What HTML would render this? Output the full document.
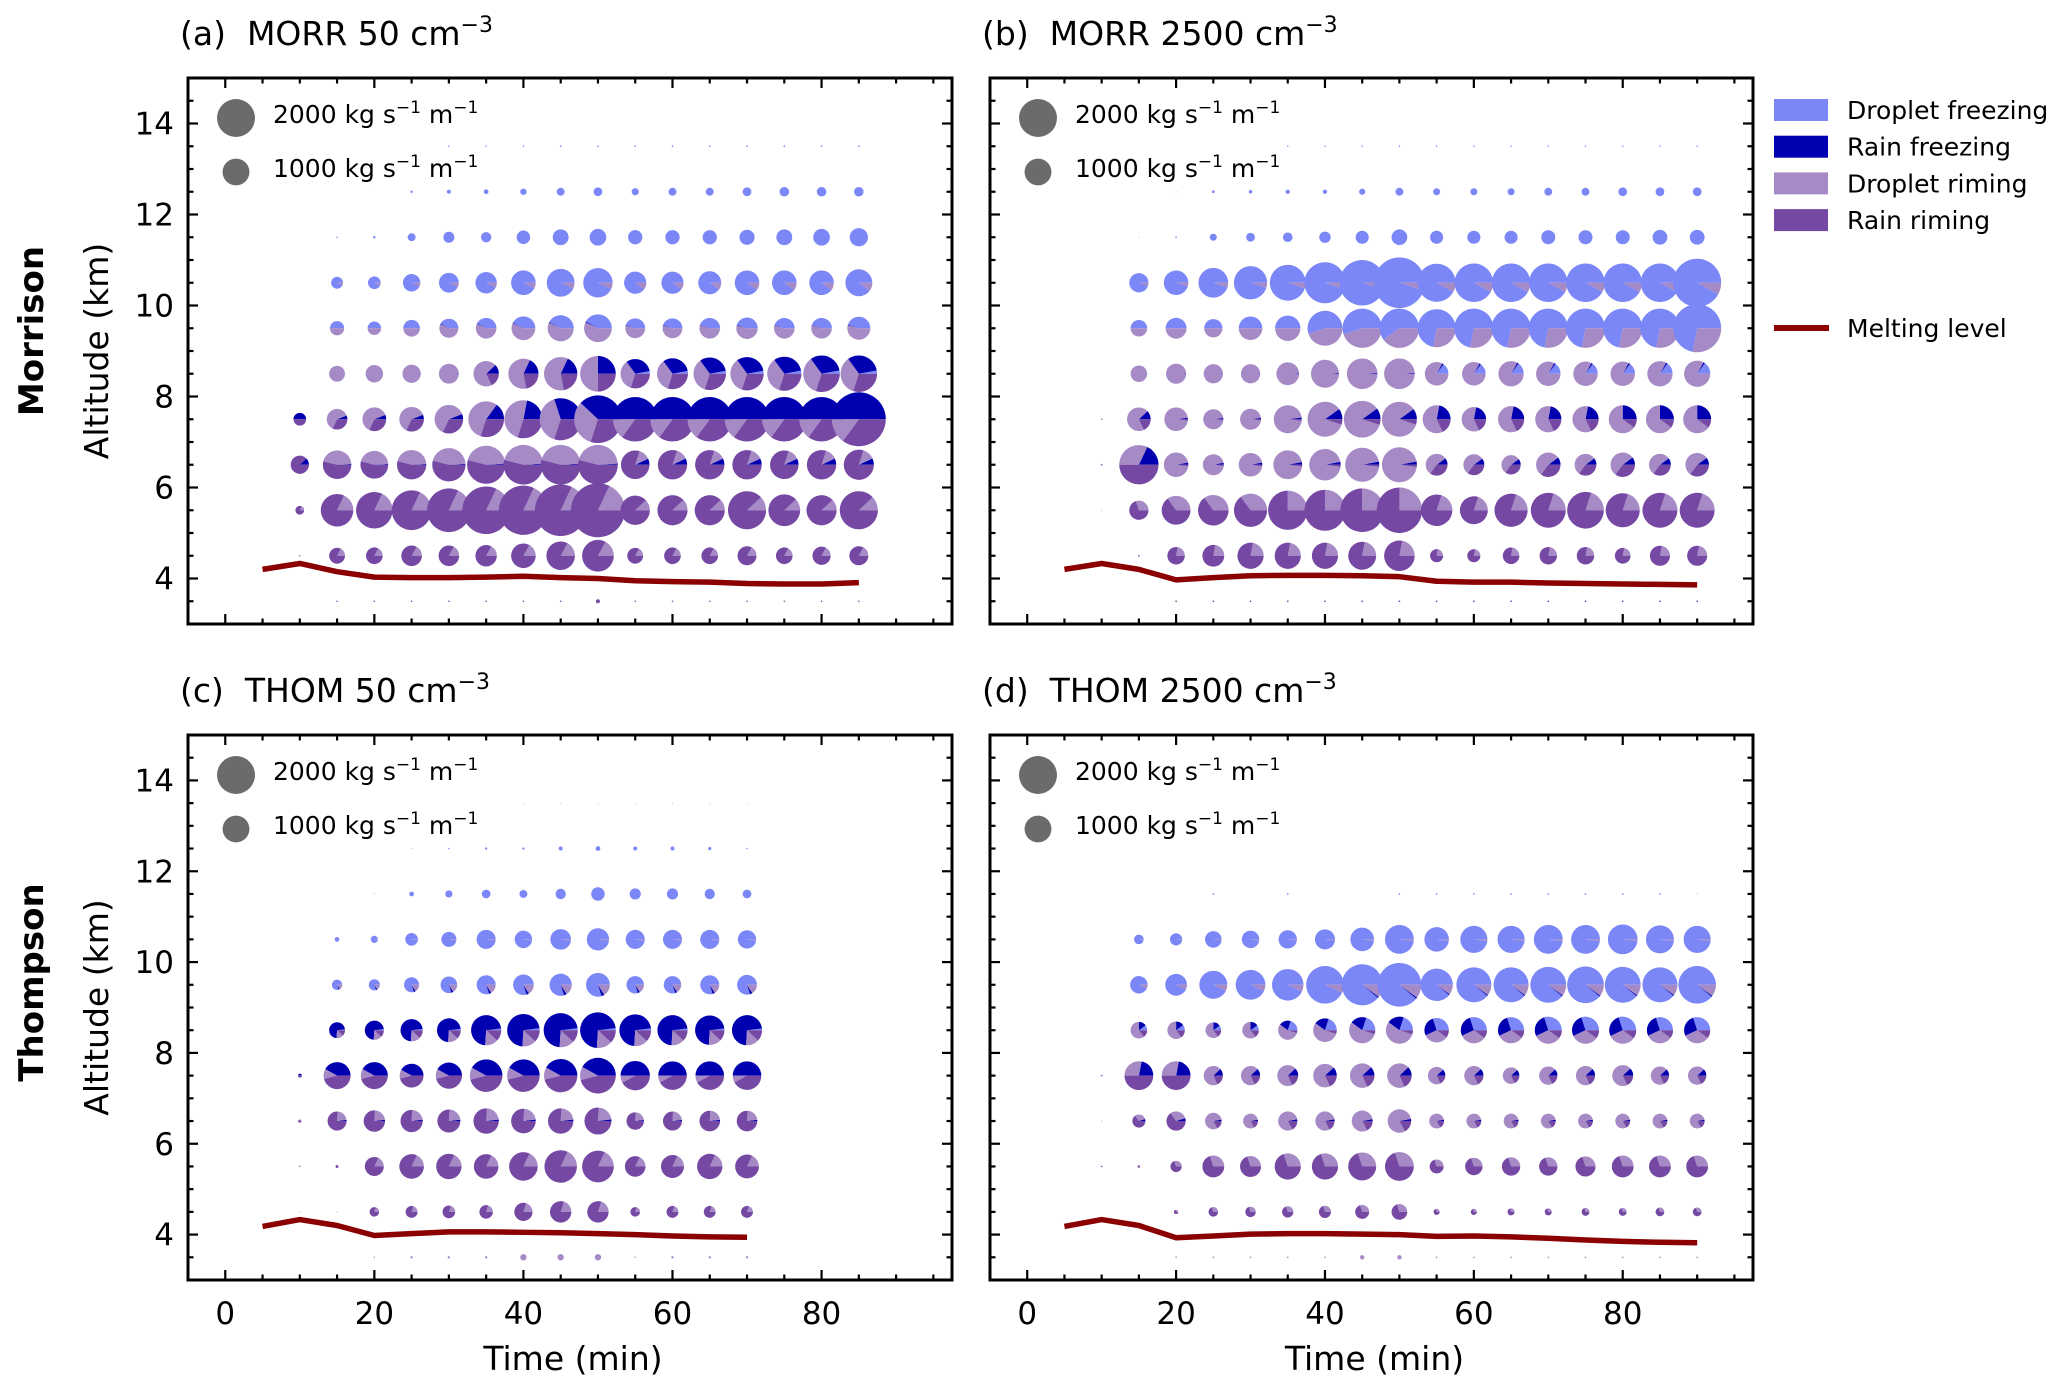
<!DOCTYPE html>
<html><head><meta charset="utf-8">
<style>
html,body{margin:0;padding:0;background:#fff;}
svg{display:block;font-family:"DejaVu Sans","Liberation Sans",sans-serif;}
</style></head>
<body>
<svg id="fig" width="2067" height="1393" viewBox="0 0 2067 1393" xmlns="http://www.w3.org/2000/svg">
<rect width="2067" height="1393" fill="#fff"/>
<g id="layer"></g>
</svg>
<script>
// ---- data ----
const altitudes = [3.5,4.5,5.5,6.5,7.5,8.5,9.5,10.5,11.5,12.5,13.5,14.5];
const timesA = [5,10,15,20,25,30,35,40,45,50,55,60,65,70,75,80,85];
const timesB = [5,10,15,20,25,30,35,40,45,50,55,60,65,70,75,80,85,90];
const timesC = [5,10,15,20,25,30,35,40,45,50,55,60,65,70];
const timesD = [5,10,15,20,25,30,35,40,45,50,55,60,65,70,75,80,85,90];
const xTicks = [0,20,40,60,80];
const yTicks = [4,6,8,10,12,14];

const totalA = [
 [0,0,3,3,3,3,3,3,3,22,3,3,3,3,3,3,3],
 [0,3,349,385,589,589,636,838,1130,1395,349,385,385,502,385,461,502],
 [0,106,1466,1845,2180,2638,3139,3352,3684,4032,1194,1259,1259,2009,1395,1259,2009],
 [0,461,1130,1068,1194,1538,2009,2180,2180,2180,1130,1194,1194,1194,1130,1194,1259],
 [0,223,589,785,838,1130,1766,2009,2450,3139,2735,2735,2735,2735,2735,2735,4032],
 [0,0,349,422,461,545,893,1259,1538,1766,1194,1326,1466,1538,1612,1845,1845],
 [0,0,283,252,385,502,589,785,950,1068,545,545,589,636,589,589,733],
 [0,0,196,223,422,545,636,838,1068,1194,684,684,733,838,838,838,1008],
 [0,0,3,8,87,171,147,252,349,385,283,283,283,315,349,385,461],
 [0,0,0,0.2,8,22,31,56,87,106,71,87,87,106,126,126,126],
 [0,0,0,0,0,3,3,3,4,4,4,4,4,4,4,4,4],
 [0,0,0,0,0,0,0,0,0,0,0,0,0,0,0,0,0]
];
const fracA = [
 [[0,0,0,0,1]],
 [[0,0,0,.17,.83]],
 [[0,0,0,.18,.82],[55,0,0,.12,.88]],
 [[0,0,.12,0,.88],[15,0,.01,.45,.54],[55,0,.07,.13,.80]],
 [[0,0,.5,0,.5],[15,0,.06,.62,.32],[35,0,.15,.55,.30],[40,0,.22,.48,.30],[45,0,.3,.4,.3],[50,0,.38,.32,.30],[55,0,.5,.15,.35]],
 [[0,0,.01,.99,0],[35,0,.12,.7,.18],[40,0,.18,.6,.22],[50,0,.25,.5,.25],[55,.03,.32,.35,.30]],
 [[0,.5,0,.5,0],[30,.42,.01,.57,0],[55,.45,.01,.54,0]],
 [[0,.93,0,.07,0],[55,.9,0,.1,0]],
 [[0,1,0,0,0]],[[0,1,0,0,0]],[[0,1,0,0,0]],[[0,1,0,0,0]]
];
const meltA = [4.2,4.33,4.15,4.03,4.02,4.02,4.03,4.05,4.02,4.0,3.95,3.93,3.92,3.89,3.88,3.88,3.91];

const totalB = [
 [0,0,0,4,4,4,4,4,4,4,4,4,4,4,4,4,4,4],
 [0,0,4,423,661,951,951,951,1082,1295,238,238,382,423,423,342,559,559],
 [0,1,512,1151,1295,1526,2140,2335,2643,2858,1370,1082,1526,1691,1865,1608,1691,1691],
 [0,4,2140,829,609,771,1151,1370,1608,1691,661,609,512,829,661,829,661,771],
 [0,4,771,771,559,609,1082,1691,1865,1691,1082,829,951,951,951,1082,1082,1082],
 [0,0,382,559,512,512,714,1082,1295,1295,771,771,889,829,829,829,889,951],
 [0,0,382,609,466,771,889,1691,2140,2140,2000,2140,2140,2140,2140,2140,2140,3198],
 [0,0,512,829,1222,1526,1777,2335,2858,3556,2000,2050,2050,2050,2050,2050,2050,3198],
 [0,0,1,4,68,106,128,179,238,342,238,238,238,271,271,271,305,305],
 [0,0,0,1,10,17,26,26,52,86,68,68,68,86,86,106,106,106],
 [0,0,0,0,0,0,3,3,3,3,3,3,3,3,3,3,3,3],
 [0,0,0,0,0,0,0,0,0,0,0,0,0,0,0,0,0,0]
];
const fracB = [
 [[0,0,0,0,1]],
 [[0,0,0,.22,.78]],
 [[0,0,0,.3,.7],[20,0,0,.35,.65],[35,0,0,.25,.75],[55,0,0,.2,.8]],
 [[0,0,.18,.32,.5],[20,0,.03,.95,.02],[55,0,.1,.55,.35]],
 [[0,0,.12,.7,.18],[20,0,.02,.96,.02],[40,0,.1,.85,.05],[55,0,.22,.6,.18],[80,0,.25,.65,.1]],
 [[0,0,.01,.99,0],[55,.15,.02,.83,0]],
 [[0,.5,0,.5,0],[40,.55,0,.45,0],[50,.6,0,.4,0],[55,.72,0,.28,0]],
 [[0,.95,0,.05,0],[55,.92,0,.08,0]],
 [[0,1,0,0,0]],[[0,1,0,0,0]],[[0,1,0,0,0]],[[0,1,0,0,0]]
];
const meltB = [4.2,4.33,4.2,3.97,4.02,4.06,4.07,4.07,4.06,4.04,3.94,3.92,3.92,3.9,3.89,3.88,3.87,3.86];

const totalC = [
 [0,0,0,3,8,8,8,56,56,56,3,8,8,8],
 [0,1,1,126,196,223,252,461,636,636,126,196,196,196],
 [0,3,14,502,838,893,838,1130,1466,1395,589,733,893,785],
 [0,14,502,636,684,733,893,838,893,1008,422,502,589,589],
 [0,22,1008,1008,785,950,1466,1466,1538,1766,1194,1130,1130,1130],
 [0,0,349,502,684,785,1259,1466,1612,1766,1395,1259,1194,1259],
 [0,0,147,171,315,385,502,589,684,785,422,422,502,545],
 [0,0,31,71,223,315,502,422,589,684,502,502,502,461],
 [0,0,0,1,31,71,106,87,147,252,171,171,147,106],
 [0,0,0,0,1,3,8,8,22,31,22,22,14,3],
 [0,0,0,0,0,0,0,1,1,1,1,1,1,1],
 [0,0,0,0,0,0,0,0,0,0,0,0,0,0]
];
const fracC = [
 [[0,0,0,1,0]],
 [[0,0,0,.2,.8]],
 [[0,0,0,.18,.82]],
 [[0,0,.02,.22,.76]],
 [[0,0,.42,.12,.46],[55,0,.5,.08,.42]],
 [[0,.02,.72,.14,.12]],
 [[0,.8,.04,.16,0]],
 [[0,.98,0,.02,0]],
 [[0,1,0,0,0]],[[0,1,0,0,0]],[[0,1,0,0,0]],[[0,1,0,0,0]]
];
const meltC = [4.18,4.33,4.2,3.98,4.02,4.06,4.06,4.05,4.04,4.02,4.0,3.97,3.95,3.94];

const totalD = [
 [0,0,0,4,4,4,4,4,26,26,4,4,4,4,4,4,4,4],
 [0,0,0,26,128,152,179,207,271,342,52,52,68,68,86,86,106,106],
 [0,4,10,179,661,609,951,951,1082,1151,271,423,466,466,559,661,661,661],
 [0,1,238,512,382,305,512,512,609,771,305,305,305,305,305,305,305,305],
 [0,4,1151,1151,512,512,609,771,829,829,423,512,382,466,512,609,466,466],
 [0,0,382,423,342,382,512,771,951,1016,829,951,951,1016,1016,1016,951,951],
 [0,0,423,661,1082,1222,1370,1955,2335,2643,1447,1691,1691,1777,1865,1777,1691,1955],
 [0,0,128,207,382,423,466,559,771,1151,829,1016,1016,1151,1151,1222,1082,1016],
 [0,0,0,0,4,0,4,0,0,4,4,4,4,4,4,4,4,1],
 [0,0,0,0,0,0,0,0,0,0,0,0,0,0,0,0,0,0],
 [0,0,0,0,0,0,0,0,0,0,0,0,0,0,0,0,0,0],
 [0,0,0,0,0,0,0,0,0,0,0,0,0,0,0,0,0,0]
];
const fracD = [
 [[0,0,0,1,0]],
 [[0,0,0,.3,.7]],
 [[0,0,0,.3,.7]],
 [[0,0,.05,.3,.65],[25,0,.03,.8,.17]],
 [[0,0,.22,.28,.5],[25,0,.12,.7,.18]],
 [[0,.1,.15,.6,.15],[35,.2,.2,.55,.05],[55,.3,.27,.33,.1]],
 [[0,.93,0,.07,0],[45,.89,.01,.1,0]],
 [[0,.98,0,.02,0]],
 [[0,1,0,0,0]],[[0,1,0,0,0]],[[0,1,0,0,0]],[[0,1,0,0,0]]
];
const meltD = [4.18,4.33,4.2,3.93,3.97,4.01,4.02,4.02,4.01,4.0,3.96,3.97,3.95,3.92,3.88,3.85,3.83,3.82];

const components = ["Droplet freezing","Rain freezing","Droplet riming","Rain riming"];
const colors = ["#7B86F7","#0000B0","#A68AC6","#7548A3"];

// ---- drawing ----
const NS = "http://www.w3.org/2000/svg";
const layer = document.getElementById("layer");
function mk(tag, attrs, parent){
  const e = document.createElementNS(NS, tag);
  for (const k in attrs) e.setAttribute(k, attrs[k]);
  (parent||layer).appendChild(e);
  return e;
}
const XMIN=-5, XMAX=97.5, YMIN=3, YMAX=15;
const REF_R = 19, REF_V = 2000;

function rad(v){ return REF_R*Math.sqrt(v/REF_V); }

function drawPanel(p){
  const g = mk("g",{});
  
  
  const W = p.right-p.left, H = p.bottom-p.top;
  const xs = t => p.left + (t-XMIN)/(XMAX-XMIN)*W;
  const ys = a => p.bottom - (a-YMIN)/(YMAX-YMIN)*H;
  const clipId = "clip-"+p.name;
  const cp = mk("clipPath",{id:clipId},g);
  mk("rect",{x:p.left,y:p.top,width:W,height:H},cp);
  const plot = mk("g",{"clip-path":"url(#"+clipId+")"},g);

  p.totals.forEach((row, ri) => {
    const alt = altitudes[ri];
    row.forEach((v, ti) => {
      if (v <= 0) return;
      const t = p.times[ti];
      let fr = p.fracs[ri][0];
      p.fracs[ri].forEach(s => { if (t >= s[0]) fr = s; });
      const cx = xs(t), cy = ys(alt), r = rad(v);
      const pie = mk("g",{},plot);
      
      
      let a0 = 0;
      for (let k=0;k<4;k++){
        const f = fr[k+1];
        if (f <= 0) continue;
        if (f >= 0.9999){
          const c = mk("circle",{cx:cx,cy:cy,r:r,fill:colors[k]},pie);
          
          
        } else {
          const a1 = a0 + f*2*Math.PI;
          const x0 = cx + r*Math.cos(a0), y0 = cy - r*Math.sin(a0);
          const x1 = cx + r*Math.cos(a1), y1 = cy - r*Math.sin(a1);
          const large = (a1-a0) > Math.PI ? 1 : 0;
          const w = mk("path",{d:`M${cx},${cy}L${x0},${y0}A${r},${r} 0 ${large} 0 ${x1},${y1}Z`,fill:colors[k]},pie);
          
          
        }
        a0 += f*2*Math.PI;
      }
    });
  });

  const pts = p.melt.map((m,i)=> xs(p.times[i])+","+ys(m)).join(" ");
  const ml = mk("polyline",{points:pts,fill:"none",stroke:"#8B0000","stroke-width":5.5,"stroke-linejoin":"round"},plot);
  
  

  const sl = mk("g",{},g);
  
  
  [[2000,p.top+40],[1000,p.top+94]].forEach(([v,cy])=>{
    mk("circle",{cx:p.left+48,cy:cy,r:rad(v),fill:"#6B6B6B"},sl);
    const tx = mk("text",{x:p.left+85,y:cy+5,"font-size":25,fill:"#000"},sl);
    tx.innerHTML = v+' kg s<tspan dy="-10" font-size="17">\u22121</tspan><tspan dy="10"> m</tspan><tspan dy="-10" font-size="17">\u22121</tspan>';
  });

  const tk = mk("g",{stroke:"#000","stroke-width":2.2},g);
  
  
  for (let t=-5;t<=95;t+=5){
    const major = xTicks.includes(t);
    const L = major?10:5.5, x = xs(t);
    mk("line",{x1:x,y1:p.bottom,x2:x,y2:p.bottom-L},tk);
    mk("line",{x1:x,y1:p.top,x2:x,y2:p.top+L},tk);
  }
  for (let a=3;a<=15.001;a+=0.5){
    const major = yTicks.includes(a);
    const L = major?10:5.5, y = ys(a);
    mk("line",{x1:p.left,y1:y,x2:p.left+L,y2:y},tk);
    mk("line",{x1:p.right,y1:y,x2:p.right-L,y2:y},tk);
  }
  const fr = mk("rect",{x:p.left,y:p.top,width:W,height:H,fill:"none",stroke:"#000","stroke-width":3},g);
  
  

  if (p.yLabels){
    yTicks.forEach(a=>{
      const t = mk("text",{x:p.left-14,y:ys(a)+11,"text-anchor":"end","font-size":31},g);
      t.textContent = a;
      
      
    });
    const yl = mk("text",{x:0,y:0,"text-anchor":"middle","font-size":33,transform:`translate(${p.left-80},${(p.top+p.bottom)/2}) rotate(-90)`},g);
    yl.textContent = "Altitude (km)";
    
    
    const rl = mk("text",{x:0,y:0,"text-anchor":"middle","font-size":34,"font-weight":"bold",transform:`translate(${p.left-145},${(p.top+p.bottom)/2 - p.rowShift}) rotate(-90)`},g);
    rl.textContent = p.row;
    
    
  }
  if (p.xLabels){
    xTicks.forEach(t=>{
      const tx = mk("text",{x:xs(t),y:p.bottom+44,"text-anchor":"middle","font-size":31},g);
      tx.textContent = t;
      
      
    });
    const xl = mk("text",{x:(p.left+p.right)/2 + 3,y:p.bottom+90,"text-anchor":"middle","font-size":33},g);
    xl.textContent = "Time (min)";
    
    
  }
  const ti = mk("text",{x:p.left-8,y:p.top-33,"font-size":33},g);
  ti.innerHTML = p.title + ' cm<tspan dy="-13" font-size="22">\u22123</tspan>';
  
  
}

drawPanel({name:"panel-a",left:188,right:952,top:78,bottom:624,times:timesA,totals:totalA,fracs:fracA,melt:meltA,yLabels:true,xLabels:false,row:"Morrison",rowShift:20,title:"(a)\u00a0\u00a0MORR 50"});
drawPanel({name:"panel-b",left:990,right:1753,top:78,bottom:624,times:timesB,totals:totalB,fracs:fracB,melt:meltB,yLabels:false,xLabels:false,title:"(b)\u00a0\u00a0MORR 2500"});
drawPanel({name:"panel-c",left:188,right:952,top:735,bottom:1280,times:timesC,totals:totalC,fracs:fracC,melt:meltC,yLabels:true,xLabels:true,row:"Thompson",rowShift:25,title:"(c)\u00a0\u00a0THOM 50"});
drawPanel({name:"panel-d",left:990,right:1753,top:735,bottom:1280,times:timesD,totals:totalD,fracs:fracD,melt:meltD,yLabels:false,xLabels:true,title:"(d)\u00a0\u00a0THOM 2500"});

const lg = mk("g",{});


components.forEach((c,i)=>{
  const y = 110 + i*36.7;
  const e = mk("g",{},lg);
  
  
  mk("rect",{x:1774,y:y-11,width:54,height:22,fill:colors[i]},e);
  const t = mk("text",{x:1847,y:y+9,"font-size":25},e);
  t.textContent = c;
});
const me = mk("g",{},lg);


mk("line",{x1:1774,y1:328,x2:1829,y2:328,stroke:"#8B0000","stroke-width":6},me);
const mt = mk("text",{x:1847,y:337,"font-size":25},me);
mt.textContent = "Melting level";
</script>
</body></html>
